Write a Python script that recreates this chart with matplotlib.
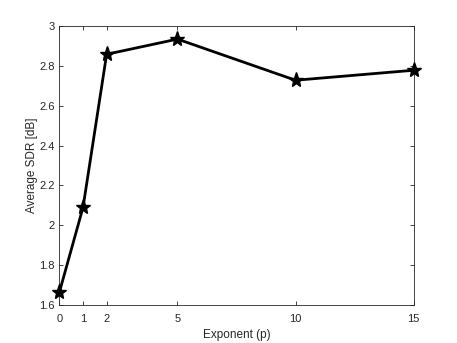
import numpy as np
import matplotlib.pyplot as plt

plt.rcParams['font.family'] = ['Liberation Sans', 'DejaVu Sans']

# exponent values and average SDR
exponent = [0, 1, 2, 5, 10, 15]
avg_sdr = [1.666, 2.09, 2.857, 2.933, 2.727, 2.777]

xtick_vals = [0, 1, 2, 5, 10, 15]
ytick_vals = np.arange(1.6, 3.01, 0.2)

fig = plt.figure(figsize=(4.57, 3.43), dpi=100)
ax = fig.add_axes([0.13, 0.11, 0.775, 0.815])

ax.plot(exponent, avg_sdr, color='black', linewidth=2, marker='*',
        markersize=11, markerfacecolor='black', markeredgecolor='black',
        clip_on=False, zorder=3)

ax.set_xlim(0, 15)
ax.set_ylim(1.6, 3)
ax.set_xticks(xtick_vals)
ax.set_yticks(ytick_vals)
ax.set_yticklabels(['1.6', '1.8', '2', '2.2', '2.4', '2.6', '2.8', '3'])

ax.tick_params(direction='in', top=True, right=True, length=3, width=0.6,
               labelsize=8, colors='#262626')
ax.tick_params(axis='x', pad=6)
for s in ax.spines.values():
    s.set_color('#262626')
    s.set_linewidth(0.6)

ax.set_xlabel("Exponent (p)", fontsize=8.5, color='#262626', labelpad=4)
ax.set_ylabel("Average SDR [dB]", fontsize=8.5, color='#262626', labelpad=1)

plt.savefig("out.png", dpi=100)
